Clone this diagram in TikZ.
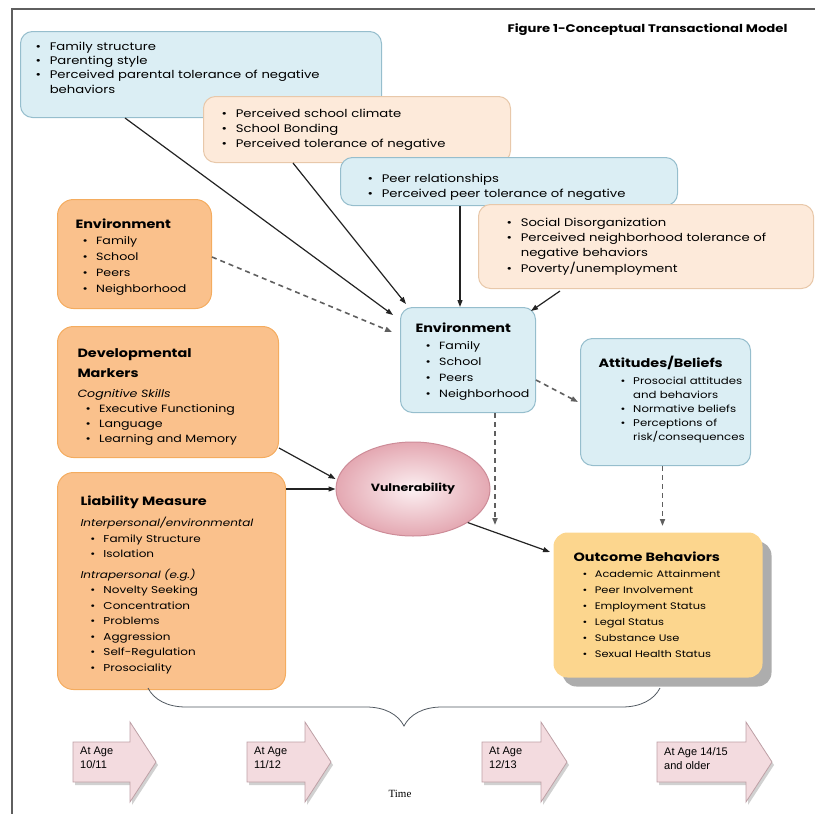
\documentclass[tikz,border=0pt]{standalone}
\usepackage{fontspec}
\setmainfont{Poppins}[FakeStretch=1.2]
\newfontfamily\timefont{Liberation Serif}
\newfontfamily\agefont{Liberation Sans}
\usetikzlibrary{arrows.meta, positioning, shapes.geometric, shadows,
                decorations.pathreplacing, calc}
\definecolor{bluefill}{RGB}{219,238,244}
\definecolor{blueline}{RGB}{150,190,205}
\definecolor{peachfill}{RGB}{253,234,218}
\definecolor{peachline}{RGB}{232,200,170}
\definecolor{orangefill}{RGB}{250,193,140}
\definecolor{orangeline}{RGB}{244,172,95}
\definecolor{outfill}{RGB}{252,214,142}
\definecolor{pinkin}{RGB}{252,240,242}
\definecolor{pinkout}{RGB}{228,168,178}
\definecolor{pinkline}{RGB}{205,140,152}
\definecolor{agefill}{RGB}{243,219,223}
\definecolor{ageline}{RGB}{190,160,166}
\definecolor{linkgray}{RGB}{35,35,35}
\definecolor{dashgray}{RGB}{95,95,95}
\definecolor{framegray}{RGB}{95,95,95}
\definecolor{bracegray}{RGB}{80,88,96}

\hyphenpenalty=10000
\exhyphenpenalty=10000
\newlength{\bulind}
\newcommand{\itm}[1]{\noindent\hangindent=\dimexpr\bulind+1.3em\relax\hangafter=1
  \hspace*{\bulind}\makebox[1.3em][l]{\textbullet}#1\par}
\newcommand{\subhead}[1]{\noindent{\itshape #1\par}}
\newcommand{\boxtitle}[2][20pt]{{\fontsize{12}{#1}\selectfont\bfseries #2\par}}
\newcommand{\padb}[1]{\par\kern#1\relax}

\begin{document}
\begin{tikzpicture}[x=1pt, y=-1pt,
    box/.style={draw, line width=1pt, rounded corners=12pt, anchor=north west,
      align=left, font=\fontsize{10.5}{15}\selectfont},
    bluebox/.style={box, draw=blueline, fill=bluefill},
    peachbox/.style={box, draw=peachline, fill=peachfill},
    orangebox/.style={box, draw=orangeline, fill=orangefill, rounded corners=16pt},
    link/.style={-{Triangle[length=7pt,width=5pt]}, line width=1.2pt, draw=linkgray},
    dlink/.style={link, draw=dashgray, line width=1.6pt, dash pattern=on 5pt off 4pt},
    agearrow/.style={fill=agefill, draw=ageline, line width=0.8pt,
      drop shadow={shadow xshift=2pt, shadow yshift=-3pt, fill=black!30, opacity=0.6}},
    agetext/.style={anchor=north west, align=left, inner sep=0pt,
      font=\agefont\fontsize{11}{14}\selectfont}]
  \useasboundingbox (0,0) rectangle (815,814);

  % frame and title
  \draw[framegray, line width=2pt] (12,814) -- (12,9) -- (815,9);
  \node[font=\fontsize{11}{12}\selectfont\bfseries, anchor=west] (title) at (504,30)
    {Figure 1-Conceptual Transactional Model};

  % context boxes along the top
  \node[bluebox, inner xsep=15pt, text width=331pt, minimum height=86pt,
    font=\fontsize{11}{14.3}\selectfont] (famA) at (20,31)
    {\itm{Family structure}\itm{Parenting style}
     \itm{Perceived parental tolerance of negative\newline behaviors}\padb{14pt}};
  \node[peachbox, inner xsep=18pt, text width=271pt, minimum height=66pt,
    font=\fontsize{11}{15}\selectfont] (schB) at (203,96)
    {\itm{Perceived school climate}\itm{School Bonding}
     \itm{Perceived tolerance of negative}};
  \node[bluebox, inner xsep=27pt, text width=283pt, minimum height=48pt,
    font=\fontsize{11}{15}\selectfont] (peerC) at (340,157)
    {\itm{Peer relationships}\itm{Perceived peer tolerance of negative}\padb{-12pt}};
  \node[peachbox, inner xsep=28pt, text width=279pt, minimum height=84pt,
    font=\fontsize{11}{15.3}\selectfont] (nbhD) at (478,204)
    {\itm{Social Disorganization}
     \itm{Perceived neighborhood tolerance of\newline negative behaviors}
     \itm{Poverty/unemployment}};

  % left column
  \node[orangebox, inner xsep=18pt, text width=118pt, minimum height=109pt,
    font=\fontsize{10.5}{16}\selectfont] (envL) at (57,199)
    {\setlength{\bulind}{7pt}\boxtitle[17pt]{Environment}
     \itm{Family}\itm{School}\itm{Peers}\itm{Neighborhood}\padb{-7pt}};
  \node[orangebox, inner xsep=20pt, text width=181pt, minimum height=131pt,
    font=\fontsize{10.5}{15}\selectfont] (dev) at (57,326)
    {\setlength{\bulind}{8pt}\boxtitle{Developmental\newline Markers}\vspace{5pt}
     \subhead{Cognitive Skills}
     \itm{Executive Functioning}\itm{Language}\itm{Learning and Memory}\padb{-9pt}};
  \node[orangebox, inner xsep=23pt, text width=182pt, minimum height=217pt,
    font=\fontsize{10}{15.5}\selectfont] (liab) at (57,472)
    {\setlength{\bulind}{10pt}\boxtitle[22pt]{Liability Measure}\vspace{6pt}
     \subhead{Interpersonal/environmental}
     \itm{Family Structure}\itm{Isolation}\vspace{5pt}
     \subhead{Intrapersonal (e.g.)}
     \itm{Novelty Seeking}\itm{Concentration}\itm{Problems}
     \itm{Aggression}\itm{Self-Regulation}\itm{Prosociality}\padb{-7pt}};

  % middle and right
  \node[bluebox, inner xsep=15pt, text width=105pt, minimum height=105pt,
    font=\fontsize{10.5}{16.3}\selectfont] (envC) at (400,307)
    {\setlength{\bulind}{10pt}\boxtitle[16pt]{Environment}
     \itm{Family}\itm{School}\itm{Peers}\itm{Neighborhood}\padb{-4pt}};
  \node[bluebox, inner xsep=6pt, text width=158pt, minimum height=127pt,
    font=\fontsize{9.8}{14.2}\selectfont] (att) at (580,338)
    {\setlength{\bulind}{34pt}\boxtitle[18pt]{\hspace*{12pt}Attitudes/Beliefs}\vspace{2pt}
     \itm{Prosocial attitudes\newline and behaviors}\itm{Normative beliefs}
     \itm{Perceptions of\newline risk/consequences}\padb{4pt}};
  \node[ellipse, draw=pinkline, line width=1pt, inner color=pinkin, outer color=pinkout,
    minimum width=154pt, minimum height=94pt, font=\fontsize{10.5}{13}\selectfont\bfseries]
    (vul) at (413,489) {Vulnerability};
  \node[box, draw=none, fill=outfill, rounded corners=14pt, inner xsep=20pt,
    text width=169pt, minimum height=145pt, font=\fontsize{9.5}{16}\selectfont,
    drop shadow={shadow xshift=9pt, shadow yshift=-9pt, fill=black!32, opacity=1}]
    (outc) at (553,532)
    {\setlength{\bulind}{9pt}\boxtitle[16pt]{Outcome Behaviors}
     \itm{Academic Attainment}\itm{Peer Involvement}\itm{Employment Status}
     \itm{Legal Status}\itm{Substance Use}\itm{Sexual Health Status}};

  % connectors
  \coordinate (dashend) at (495,525);
  \draw[link] ([xshift=105pt]famA.south west) -- ([xshift=-7pt, yshift=-8pt]envC.north west);
  \draw[link] ([xshift=90pt]schB.south west) -- ([xshift=6pt, yshift=3pt]envC.north west);
  \draw[link] ([xshift=120pt]peerC.south west) -- ([xshift=60pt]envC.north west);
  \draw[link] ([xshift=82pt, yshift=-2pt]nbhD.south west) -- ([xshift=-5pt, yshift=-4pt]envC.north east);
  \draw[dlink] ([yshift=-3pt]envL.east) -- ([xshift=-8pt, yshift=-25pt]envC.north west);
  \draw[dlink] ([yshift=-20pt]envC.east) -- ([xshift=-2pt]att.west);
  \draw[dlink] ([xshift=95pt]envC.south west) -- (dashend);
  \draw[dlink] ([xshift=-3pt]att.south) -- ([xshift=-3pt, yshift=6pt]att.south |- outc.north);
  \draw[link] ([yshift=10pt]dev.south east) -- ([yshift=10pt]vul.west);
  \draw[link] (vul.west -| liab.east) -- (vul.west);
  \draw[link] (vul.south east) -- ([xshift=-3pt, yshift=-20pt]outc.north west);

  % time line
  \coordinate (braceL) at (148,688);
  \coordinate (braceR) at (660,688);
  \draw[bracegray, line width=0.8pt, decorate, decoration={brace, amplitude=38pt, mirror}]
    (braceL) -- (braceR);

  \draw[agearrow] (73,742) -- (130,742) -- (130,722) -- (156,762) -- (130,802) -- (130,782) -- (73,782) -- cycle;
  \node[agetext] (age1) at (80,747) {At Age\\10/11};
  \draw[agearrow] (247,742) -- (305,742) -- (305,722) -- (331,762) -- (305,802) -- (305,782) -- (247,782) -- cycle;
  \node[agetext] (age2) at (254,747) {At Age\\11/12};
  \draw[agearrow] (482,742) -- (541,742) -- (541,722) -- (567,762) -- (541,802) -- (541,782) -- (482,782) -- cycle;
  \node[agetext] (age3) at (489,747) {At Age\\12/13};
  \draw[agearrow] (657,742) -- (746,742) -- (746,722) -- (772,762) -- (746,802) -- (746,782) -- (657,782) -- cycle;
  \node[agetext] (age4) at (664,747) {At Age 14/15\\and older};

  \node[font=\timefont\fontsize{11}{13}\selectfont] (time) at (400,794) {Time};
\end{tikzpicture}
\end{document}
